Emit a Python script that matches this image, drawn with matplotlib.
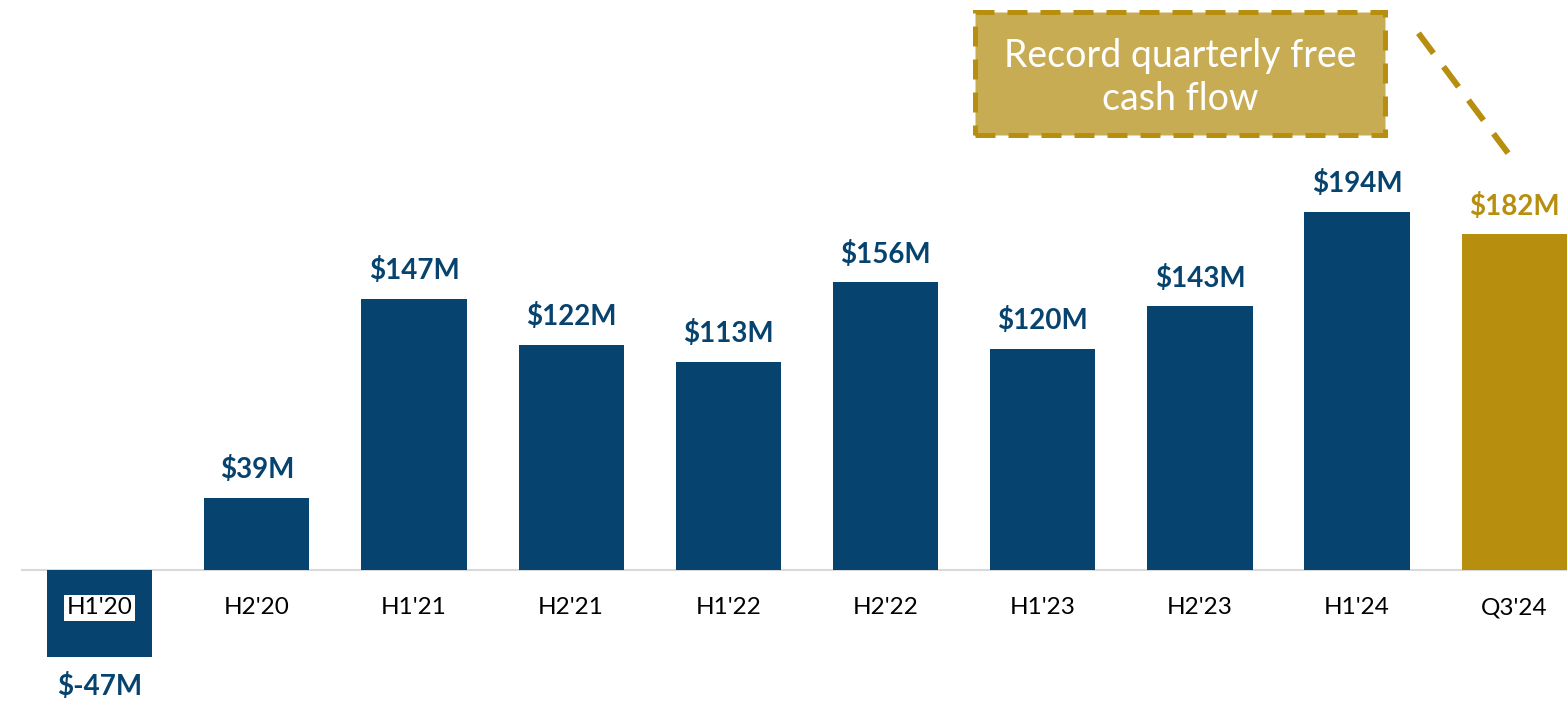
import matplotlib.pyplot as plt
from matplotlib.patches import Rectangle

periods = ["H1'20", "H2'20", "H1'21", "H2'21", "H1'22", "H2'22", "H1'23", "H2'23", "H1'24", "Q3'24"]
fcf = [-47, 39, 147, 122, 113, 156, 120, 143, 194, 182]
value_labels = ["$-47M", "$39M", "$147M", "$122M", "$113M", "$156M", "$120M", "$143M", "$194M", "$182M"]

navy = "#06436e"
gold = "#b78e0e"
colors = [navy] * 9 + [gold]

plt.rcParams['font.family'] = ['Lato', 'DejaVu Sans']

fig = plt.figure(figsize=(15.67, 7.02), dpi=100)
ax = fig.add_axes([21 / 1567, 0, 1 - 21 / 1567, 1])
x = list(range(len(periods)))
ax.bar(x, fcf, width=0.67, color=colors, zorder=2)
ax.set_xlim(-0.5, 9.335)
ax.set_ylim(-71.5, 309)
ax.axhline(0, color="#d9d9d9", lw=1.5, zorder=1)
ax.axis("off")

for i, v in enumerate(fcf):
    if v >= 0:
        ax.text(i, v + 8, value_labels[i], ha="center", va="bottom", fontsize=20,
                fontweight="bold", color=colors[i])
        ax.text(i, -20.5, periods[i], ha="center", va="center", fontsize=17.5, color="black")
    else:
        ax.text(i, v - 9, value_labels[i], ha="center", va="top", fontsize=20,
                fontweight="bold", color=colors[i])
        ax.text(i, -20.5, periods[i], ha="center", va="center", fontsize=17.5, color="black",
                bbox=dict(facecolor="white", edgecolor="none", pad=2))

# callout box
box = Rectangle((5.57, 235.8), 2.61, 66.6, facecolor="#c8ac54", edgecolor=gold,
                lw=3.6, linestyle=(0, (4, 2.6)), zorder=3, clip_on=False)
ax.add_patch(box)
ax.text(6.875, 267, "Record quarterly free\ncash flow", ha="center", va="center",
        fontsize=27, color="white", linespacing=1.22, zorder=4)
ax.plot([8.39, 8.96], [291, 226], color=gold, lw=4.3, linestyle=(0, (4.2, 2.8)),
        solid_capstyle="butt", dash_capstyle="butt", zorder=3, clip_on=False)

plt.savefig("out.png", dpi=100)
